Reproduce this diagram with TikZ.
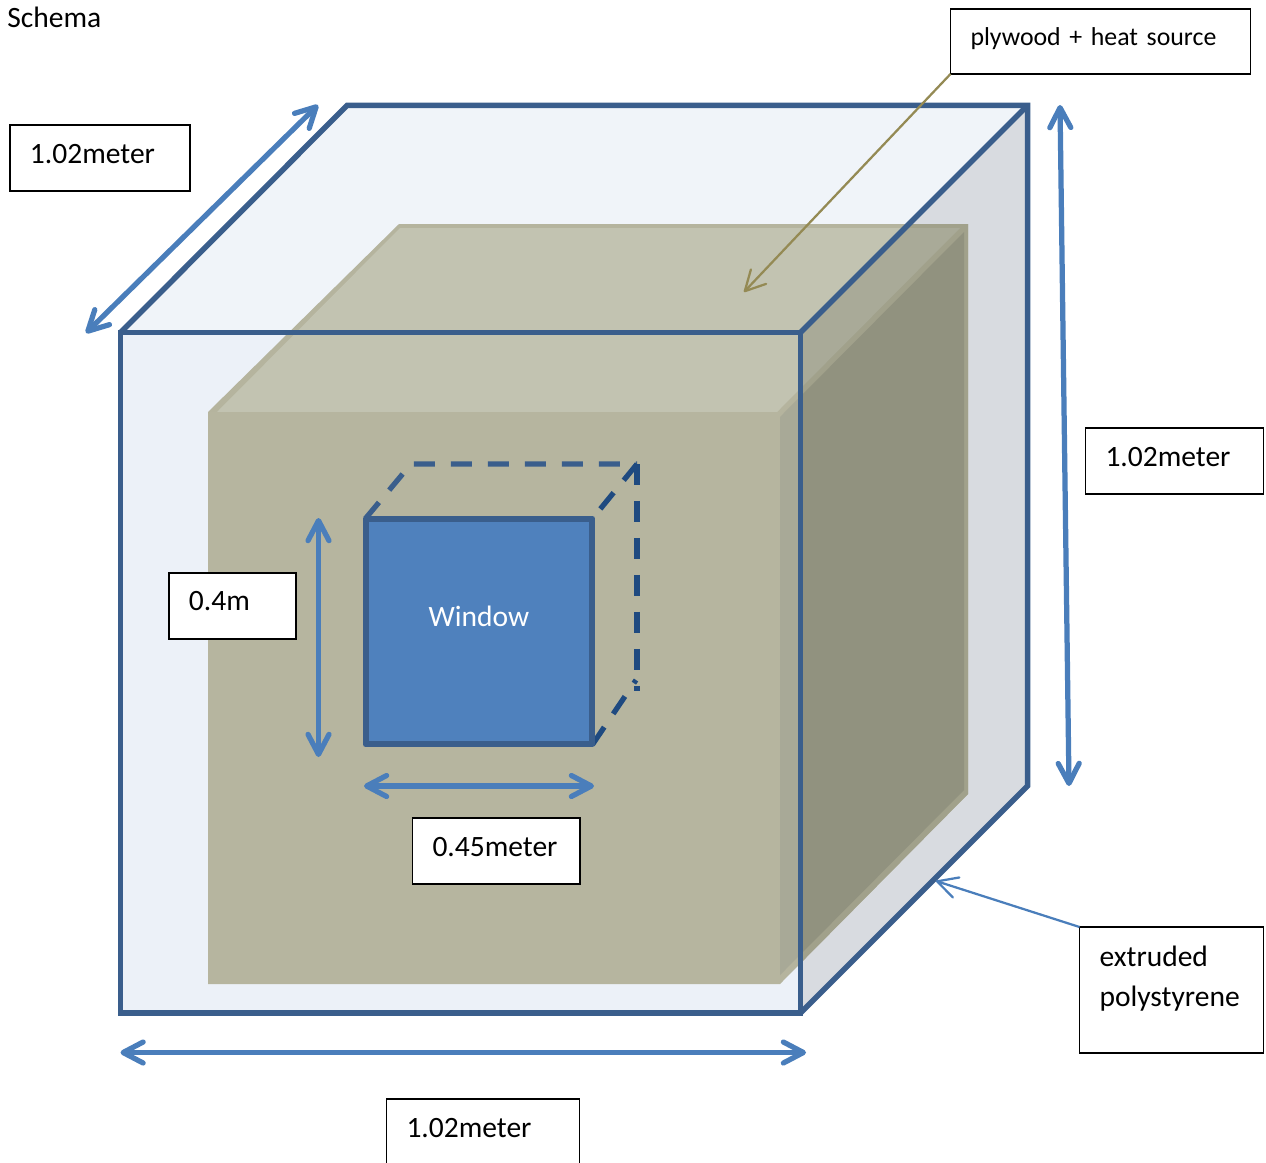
\documentclass[tikz,border=0pt]{standalone}
\usepackage{fontspec}
\setmainfont{Carlito}
\usetikzlibrary{arrows.meta}
\definecolor{frontblue}{HTML}{ECF1F8}
\definecolor{topblue}{HTML}{F0F4F9}
\definecolor{sideblue}{HTML}{D8DBE0}
\definecolor{cubeline}{HTML}{3A5E8C}
\definecolor{dashdark}{HTML}{1F4A80}
\definecolor{arrowblue}{HTML}{4A7EBB}
\definecolor{windowblue}{HTML}{4F81BD}
\definecolor{leaderolive}{HTML}{948A54}
\definecolor{boxfront}{HTML}{B6B59F}
\definecolor{boxtop}{HTML}{C2C3B1}
\definecolor{boxedge}{HTML}{B5B49E}
\definecolor{boxside}{HTML}{A8A997}
\definecolor{boxtopdark}{HTML}{A9AA98}
\definecolor{boxedgedark}{HTML}{A1A18B}
\definecolor{boxsidedark}{HTML}{91927F}
\tikzset{
	dimarrow/.style={<->, arrowblue, line width=.105cm, line cap=round},
	leader/.style={->, line width=.045cm},
	cubeedge/.style={cubeline, line width=.11cm, line join=miter},
	windowdash/.style={line width=.105cm, dash pattern=on .42cm off .32cm},
	labelbox/.style={draw=black, fill=white, line width=.025cm, anchor=north west, inner xsep=.4cm, inner ysep=0pt, outer sep=0pt, text height=.76cm, text depth=.56cm, align=left},
	>={Straight Barb[length=.4cm, width=.42cm, round]}
}
\newcommand{\innerbox}[4]{
	\fill[#4] (208,412) -- (399,224) -- (968,224) -- (968,794) -- (780,984) -- (208,984) -- cycle;
	\fill[#2] (217,412) -- (400,228) -- (960,228) -- (777,412) -- cycle;
	\fill[#3] (780,417) -- (964,232) -- (964,790) -- (780,975) -- cycle;
	\fill[#1] (208,412) rectangle (780,984);
}
\begin{document}
\begin{tikzpicture}[x=.02cm, y=-.02cm, every node/.style={font=\fontsize{16.8}{23.2}\selectfont}]
	\useasboundingbox (0,0) rectangle (1266,1162);
	\fill[frontblue] (120,332) rectangle (801,1013);
	\fill[topblue] (120,332) -- (347,105) -- (1028,105) -- (801,332) -- cycle;
	\fill[sideblue] (801,332) -- (1028,105) -- (1028,786) -- (801,1013) -- cycle;
	\innerbox{boxfront}{boxtop}{boxside}{boxedge}
	\begin{scope}
		\clip (801,332) -- (1028,105) -- (1028,786) -- (801,1013) -- cycle;
		\innerbox{boxfront}{boxtopdark}{boxsidedark}{boxedgedark}
	\end{scope}
	\draw[cubeedge] (120.5,332.5) rectangle (800.5,1013);
	\draw[cubeedge] (120.5,332.5) -- (347,105.5) -- (1027.5,105.5) -- (1027.5,786) -- (800.5,1013);
	\draw[cubeedge] (1027.5,105.5) -- (800.5,332.5);

	\node[anchor=base west, inner sep=0pt] (schema) at (7,28) {Schema};

	\draw[windowdash, cubeline] (365.5,518.5) -- (411,464) -- (637,464);
	\draw[windowdash, dashdark] (637,464) -- (592.5,518.5);
	\draw[windowdash, dashdark] (637,464) -- (637,691);
	\draw[windowdash, dashdark] (592.5,744.5) -- (636,680);
	\node[draw=cubeline, fill=windowblue, line width=.12cm, line join=round, minimum width=4.54cm, minimum height=4.52cm, inner sep=0pt] (window) at (479,631.5) {};
	\node[text=white, inner sep=0pt, anchor=base] (windowtext) at (479,626) {Window};

	\coordinate (depthfront) at (86,333);
	\coordinate (depthback) at (318,105);
	\coordinate (heighttop) at (1060,105);
	\coordinate (heightbottom) at (1069,786);
	\coordinate (widthleft) at (120.5,1052.5);
	\coordinate (widthright) at (806,1052.5);
	\coordinate (windowtop) at (318.5,518);
	\coordinate (windowbottom) at (318.5,757);
	\coordinate (windowleft) at (364,786);
	\coordinate (windowright) at (594,786);
	\coordinate (plywoodtip) at (744,292);
	\coordinate (foamtip) at (936,881);

	\draw[dimarrow] (depthfront) -- (depthback);
	\draw[dimarrow] (heighttop) -- (heightbottom);
	\draw[dimarrow] (widthleft) -- (widthright);
	\draw[dimarrow] (windowtop) -- (windowbottom);
	\draw[dimarrow] (windowleft) -- (windowright);

	\node[labelbox, text width=2.8cm, text height=.78cm, text depth=.54cm] (depthlabel) at (10,125) {1.02meter};
	\node[labelbox, text width=2.76cm, text height=.78cm, text depth=.54cm] (heightlabel) at (1085.5,428) {1.02meter};
	\node[labelbox, text width=3.06cm] (widthlabel) at (386.5,1099) {1.02meter};
	\node[labelbox, text width=1.74cm] (windowheight) at (169,573) {0.4m};
	\node[labelbox, text width=2.55cm] (windowwidth) at (412.5,818) {0.45meter};
	\node[labelbox, text width=5.2cm, text height=.74cm, text depth=.56cm, font=\fontsize{14.7}{20}\selectfont] (plywood) at (950.5,9) {plywood + heat source};
	\node[labelbox, text width=2.88cm, text height=.78cm, text depth=1.74cm] (foam) at (1079.5,927) {extruded\\polystyrene};

	\draw[leader, leaderolive] (plywood.south west) -- (plywoodtip);
	\draw[leader, arrowblue] (foam.north west) -- (foamtip);
\end{tikzpicture}
\end{document}
